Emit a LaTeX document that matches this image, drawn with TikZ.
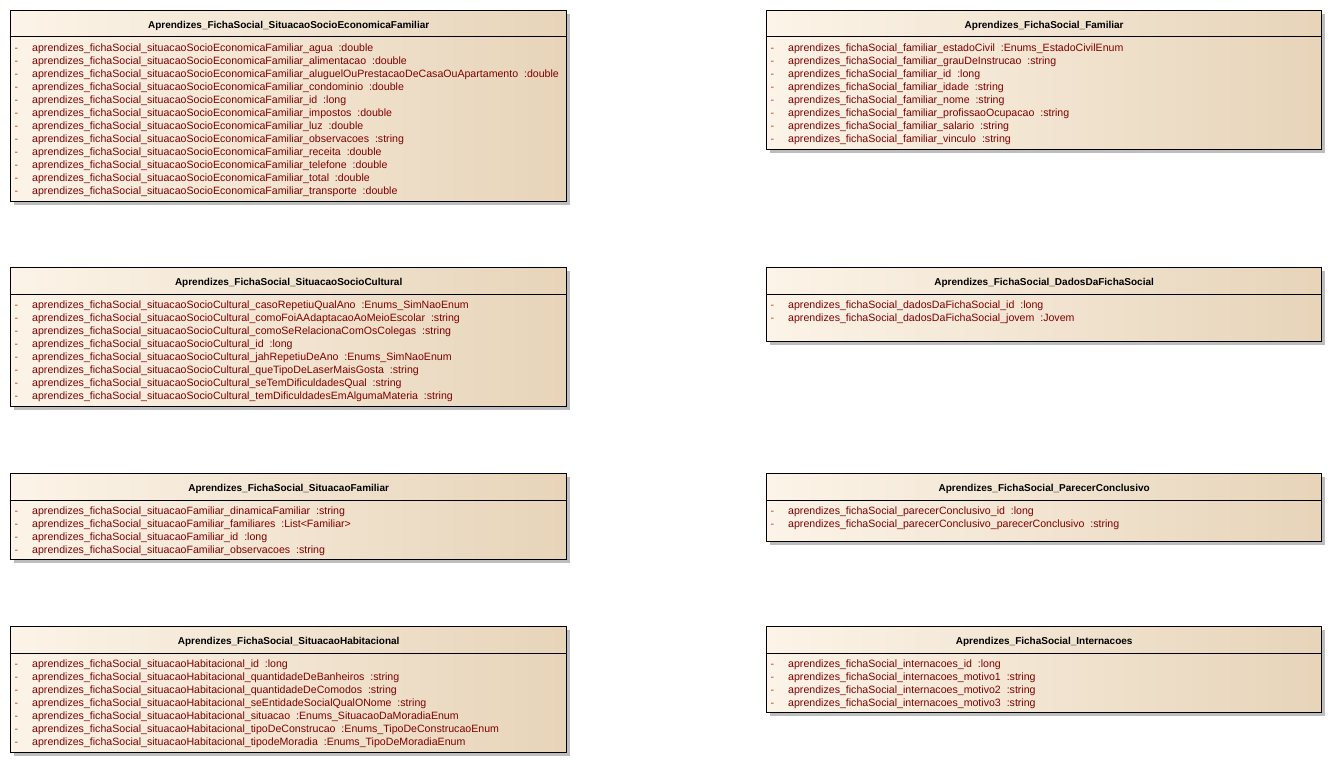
\documentclass[tikz,border=0pt]{standalone}
\usepackage{fontspec}
\setmainfont{Liberation Sans}
\definecolor{boxL}{HTML}{FCF4E8}
\definecolor{boxR}{HTML}{E7D4B9}
\definecolor{shadowgray}{HTML}{BDBDBD}
\definecolor{rowred}{HTML}{800000}
\definecolor{dashred}{HTML}{C03818}
\tikzset{
  classbody/.style={draw=black, line width=1.3pt, left color=boxL, right color=boxR, inner sep=0pt, shape=rectangle},
  titletext/.style={font=\fontsize{10}{12}\selectfont\bfseries, text=black, inner sep=0pt},
  rowtext/.style={font=\fontsize{10.6}{13}\selectfont, text=rowred, inner sep=0pt, anchor=west, text height=7.7pt, text depth=2.3pt},
  dashtext/.style={font=\fontsize{10.6}{13}\selectfont, text=dashred, inner sep=0pt, anchor=west, text height=7.7pt, text depth=2.3pt},
  seprule/.style={draw=black, line width=1pt}
}
\newcommand\umlclass[7]{%
  \fill[shadowgray] (#2+4,#3+4) rectangle ++(#4,#5);
  \node[classbody, minimum width=#4pt, minimum height=#5pt, anchor=north west] (#1) at (#2,#3) {};
  \draw[seprule] ([yshift=-27pt]#1.north west) -- ([yshift=-27pt]#1.north east);
  \node[titletext] (#1-title) at ([yshift=-15.5pt]#1.north) {#6};
  \foreach \rowtxt [count=\i] in {#7} {
    \node[dashtext] (#1-d\i) at ([xshift=4.5pt,yshift={-25.8pt-13pt*\i}]#1.north west) {-};
    \node[rowtext] (#1-r\i) at ([xshift=22pt,yshift={-25.8pt-13pt*\i}]#1.north west) {\rowtxt};
  }
}
\begin{document}
\catcode`\_=12
\begin{tikzpicture}[x=1pt,y=-1pt]
\useasboundingbox[fill=white] (0,0) rectangle (1331,762);

\umlclass{se}{10}{10}{556}{191}{Aprendizes_FichaSocial_SituacaoSocioEconomicaFamiliar}{
aprendizes_fichaSocial_situacaoSocioEconomicaFamiliar_agua~ :double,
aprendizes_fichaSocial_situacaoSocioEconomicaFamiliar_alimentacao~ :double,
aprendizes_fichaSocial_situacaoSocioEconomicaFamiliar_aluguelOuPrestacaoDeCasaOuApartamento~ :double,
aprendizes_fichaSocial_situacaoSocioEconomicaFamiliar_condominio~ :double,
aprendizes_fichaSocial_situacaoSocioEconomicaFamiliar_id~ :long,
aprendizes_fichaSocial_situacaoSocioEconomicaFamiliar_impostos~ :double,
aprendizes_fichaSocial_situacaoSocioEconomicaFamiliar_luz~ :double,
aprendizes_fichaSocial_situacaoSocioEconomicaFamiliar_observacoes~ :string,
aprendizes_fichaSocial_situacaoSocioEconomicaFamiliar_receita~ :double,
aprendizes_fichaSocial_situacaoSocioEconomicaFamiliar_telefone~ :double,
aprendizes_fichaSocial_situacaoSocioEconomicaFamiliar_total~ :double,
aprendizes_fichaSocial_situacaoSocioEconomicaFamiliar_transporte~ :double}

\umlclass{fam}{766}{10}{555}{139}{Aprendizes_FichaSocial_Familiar}{
aprendizes_fichaSocial_familiar_estadoCivil~ :Enums_EstadoCivilEnum,
aprendizes_fichaSocial_familiar_grauDeInstrucao~ :string,
aprendizes_fichaSocial_familiar_id~ :long,
aprendizes_fichaSocial_familiar_idade~ :string,
aprendizes_fichaSocial_familiar_nome~ :string,
aprendizes_fichaSocial_familiar_profissaoOcupacao~ :string,
aprendizes_fichaSocial_familiar_salario~ :string,
aprendizes_fichaSocial_familiar_vinculo~ :string}

\umlclass{sc}{10}{267}{556}{139}{Aprendizes_FichaSocial_SituacaoSocioCultural}{
aprendizes_fichaSocial_situacaoSocioCultural_casoRepetiuQualAno~ :Enums_SimNaoEnum,
aprendizes_fichaSocial_situacaoSocioCultural_comoFoiAAdaptacaoAoMeioEscolar~ :string,
aprendizes_fichaSocial_situacaoSocioCultural_comoSeRelacionaComOsColegas~ :string,
aprendizes_fichaSocial_situacaoSocioCultural_id~ :long,
aprendizes_fichaSocial_situacaoSocioCultural_jahRepetiuDeAno~ :Enums_SimNaoEnum,
aprendizes_fichaSocial_situacaoSocioCultural_queTipoDeLaserMaisGosta~ :string,
aprendizes_fichaSocial_situacaoSocioCultural_seTemDificuldadesQual~ :string,
aprendizes_fichaSocial_situacaoSocioCultural_temDificuldadesEmAlgumaMateria~ :string}

\umlclass{dados}{766}{267}{555}{74}{Aprendizes_FichaSocial_DadosDaFichaSocial}{
aprendizes_fichaSocial_dadosDaFichaSocial_id~ :long,
aprendizes_fichaSocial_dadosDaFichaSocial_jovem~ :Jovem}

\umlclass{sf}{10}{473}{556}{86}{Aprendizes_FichaSocial_SituacaoFamiliar}{
aprendizes_fichaSocial_situacaoFamiliar_dinamicaFamiliar~ :string,
aprendizes_fichaSocial_situacaoFamiliar_familiares~ :List<Familiar>,
aprendizes_fichaSocial_situacaoFamiliar_id~ :long,
aprendizes_fichaSocial_situacaoFamiliar_observacoes~ :string}

\umlclass{pc}{766}{473}{555}{68}{Aprendizes_FichaSocial_ParecerConclusivo}{
aprendizes_fichaSocial_parecerConclusivo_id~ :long,
aprendizes_fichaSocial_parecerConclusivo_parecerConclusivo~ :string}

\umlclass{sh}{10}{626}{556}{126}{Aprendizes_FichaSocial_SituacaoHabitacional}{
aprendizes_fichaSocial_situacaoHabitacional_id~ :long,
aprendizes_fichaSocial_situacaoHabitacional_quantidadeDeBanheiros~ :string,
aprendizes_fichaSocial_situacaoHabitacional_quantidadeDeComodos~ :string,
aprendizes_fichaSocial_situacaoHabitacional_seEntidadeSocialQualONome~ :string,
aprendizes_fichaSocial_situacaoHabitacional_situacao~ :Enums_SituacaoDaMoradiaEnum,
aprendizes_fichaSocial_situacaoHabitacional_tipoDeConstrucao~ :Enums_TipoDeConstrucaoEnum,
aprendizes_fichaSocial_situacaoHabitacional_tipodeMoradia~ :Enums_TipoDeMoradiaEnum}

\umlclass{int}{766}{626}{555}{86}{Aprendizes_FichaSocial_Internacoes}{
aprendizes_fichaSocial_internacoes_id~ :long,
aprendizes_fichaSocial_internacoes_motivo1~ :string,
aprendizes_fichaSocial_internacoes_motivo2~ :string,
aprendizes_fichaSocial_internacoes_motivo3~ :string}
\end{tikzpicture}
\end{document}
